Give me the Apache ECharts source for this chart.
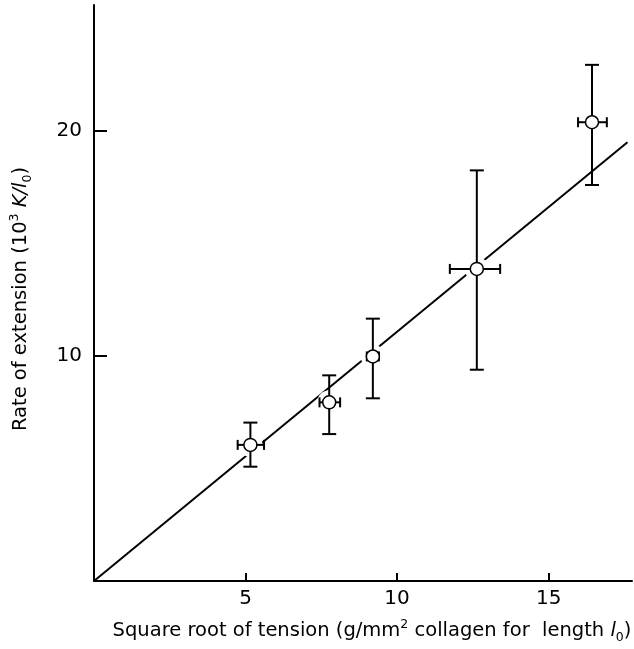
<!DOCTYPE html>
<html>
<head>
<meta charset="utf-8">
<script src="https://cdn.jsdelivr.net/npm/echarts@6/dist/echarts.min.js"></script>
<style>
  html, body { margin: 0; padding: 0; background: #fff; }
  #main { width: 634px; height: 649px; }
</style>
</head>
<body>
<div id="main"></div>
<script>
// measured points (sqrt tension, rate of extension) with error ranges
var xVals = [5.16, 7.76, 9.2, 12.63, 16.43];
var yVals = [6.05, 7.94, 9.98, 13.87, 20.39];
var xLo = [4.74, 7.44, 9.0, 11.74, 15.97];
var xHi = [5.61, 8.12, 9.4, 13.4, 16.92];
var yLo = [5.08, 6.53, 8.12, 9.39, 17.6];
var yHi = [7.04, 9.14, 11.66, 18.25, 22.94];

// fitted line through the origin
var fitX = [0, 17.6];
var fitY = [0, 19.5];

var xTicks = [5, 10, 15];
var yTicks = [10, 20];

var myChart = echarts.init(document.getElementById('main'));

var points = xVals.map(function (x, i) { return [x, yVals[i]]; });
var bars = xVals.map(function (x, i) {
  return [x, yVals[i], xLo[i], xHi[i], yLo[i], yHi[i]];
});

var font = '"DejaVu Sans", sans-serif';
var nameRich = {
  t: { fontSize: 19.5, fontFamily: font, color: '#000', lineHeight: 26 },
  it: { fontSize: 19.5, fontFamily: font, fontStyle: 'italic', color: '#000', lineHeight: 26 },
  sup: { fontSize: 12.5, fontFamily: font, color: '#000', verticalAlign: 'top', lineHeight: 26 },
  sub: { fontSize: 12.5, fontFamily: font, color: '#000', verticalAlign: 'bottom', lineHeight: 20 }
};

const option = {
  animation: false,
  grid: { left: 90, right: 2, top: 5, bottom: 66 },
  xAxis: {
    type: 'value',
    min: 0,
    max: 17.75,
    axisLine: { lineStyle: { color: '#000', width: 2 } },
    axisTick: { inside: true, length: 8, customValues: xTicks, lineStyle: { color: '#000', width: 2 } },
    axisLabel: { customValues: xTicks, color: '#000', fontSize: 20, margin: 8, fontFamily: font },
    splitLine: { show: false },
    name: '{t|Square root of tension (g/mm}{sup|2}{t| collagen for  length }{it|l}{sub|0}{t|)}',
    nameLocation: 'middle',
    nameGap: 37,
    nameTextStyle: { padding: [0, 0, 0, 18], rich: nameRich }
  },
  yAxis: {
    type: 'value',
    min: 0,
    max: 25.6,
    axisLine: { lineStyle: { color: '#000', width: 2 } },
    axisTick: { inside: true, length: 13, customValues: yTicks, lineStyle: { color: '#000', width: 2 } },
    axisLabel: { customValues: yTicks, color: '#000', fontSize: 20, margin: 12, fontFamily: font },
    splitLine: { show: false },
    name: '{t|Rate of extension (10}{sup|3}{t| }{it|K/l}{sub|0}{t|)}',
    nameLocation: 'middle',
    nameRotate: 90,
    nameGap: 60,
    nameTextStyle: { padding: [0, 12, 0, 0], rich: nameRich }
  },
  series: [
    {
      type: 'line',
      data: fitX.map(function (x, i) { return [x, fitY[i]]; }),
      symbol: 'none',
      lineStyle: { color: '#000', width: 2 },
      z: 1
    },
    {
      // white halo that breaks the line around each point
      type: 'scatter',
      data: points,
      symbolSize: 24,
      itemStyle: { color: '#fff', opacity: 1 },
      silent: true,
      z: 2
    },
    {
      type: 'custom',
      data: bars,
      z: 3,
      renderItem: function (params, api) {
        var c = api.coord([api.value(0), api.value(1)]);
        var l = api.coord([api.value(2), api.value(1)]);
        var r = api.coord([api.value(3), api.value(1)]);
        var b = api.coord([api.value(0), api.value(4)]);
        var t = api.coord([api.value(0), api.value(5)]);
        var s = { stroke: '#000', lineWidth: 2 };
        var cw = 7, ch = 5;
        return {
          type: 'group',
          children: [
            { type: 'line', shape: { x1: c[0], y1: t[1], x2: c[0], y2: b[1] }, style: s },
            { type: 'line', shape: { x1: c[0] - cw, y1: t[1], x2: c[0] + cw, y2: t[1] }, style: s },
            { type: 'line', shape: { x1: c[0] - cw, y1: b[1], x2: c[0] + cw, y2: b[1] }, style: s },
            { type: 'line', shape: { x1: l[0], y1: c[1], x2: r[0], y2: c[1] }, style: s },
            { type: 'line', shape: { x1: l[0], y1: c[1] - ch, x2: l[0], y2: c[1] + ch }, style: s },
            { type: 'line', shape: { x1: r[0], y1: c[1] - ch, x2: r[0], y2: c[1] + ch }, style: s }
          ]
        };
      }
    },
    {
      type: 'scatter',
      data: points,
      symbol: 'circle',
      symbolSize: 13,
      itemStyle: { color: '#fff', borderColor: '#000', borderWidth: 1.5, opacity: 1 },
      z: 4
    }
  ]
};

myChart.setOption(option);
</script>
</body>
</html>
